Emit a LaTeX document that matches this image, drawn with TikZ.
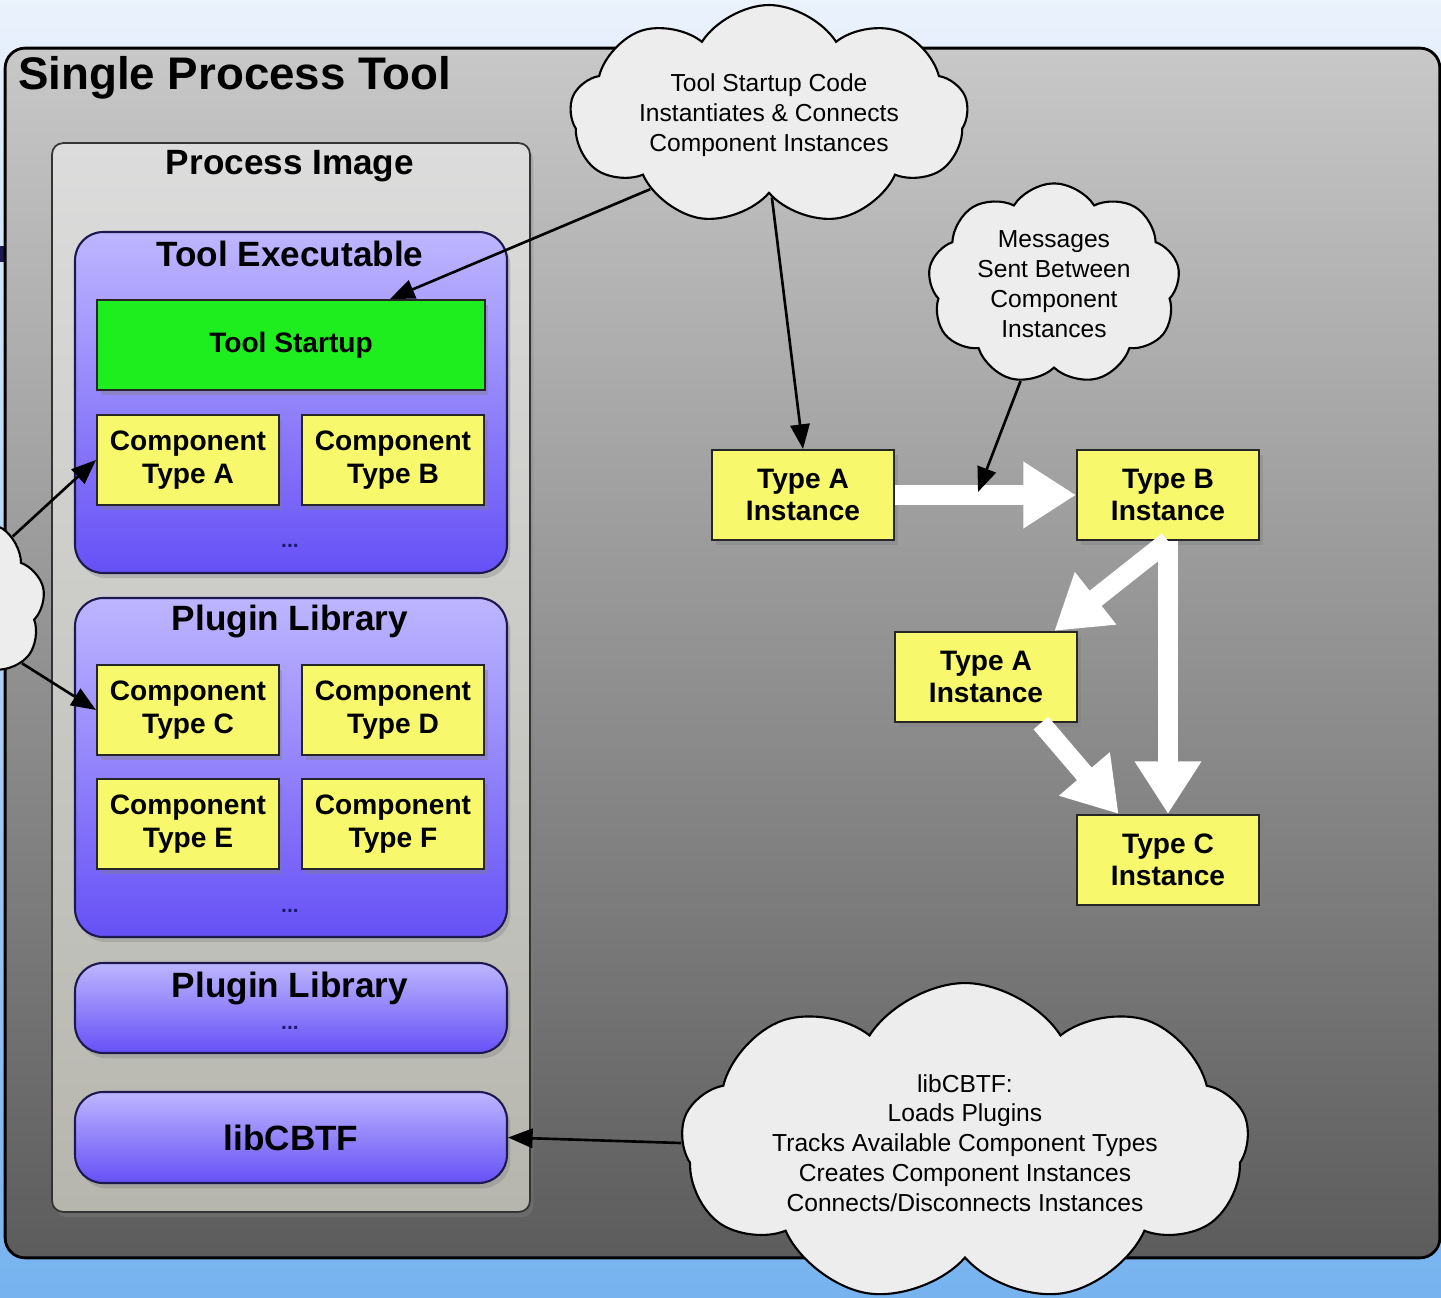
\documentclass[tikz,border=0pt]{standalone}
\usepackage{fontspec}
\setmainfont{Liberation Sans}
\usetikzlibrary{shapes.symbols,arrows.meta,shadows}

\definecolor{skytop}{HTML}{EAF2FC}
\definecolor{skybot}{HTML}{76B3EF}
\definecolor{paneltop}{HTML}{C8C8C8}
\definecolor{panelbot}{HTML}{5C5C5C}
\definecolor{imagetop}{HTML}{DCDCDC}
\definecolor{imagebot}{HTML}{B6B6AE}
\definecolor{libtop}{HTML}{BEB6FF}
\definecolor{libbot}{HTML}{6650F6}
\definecolor{compyellow}{HTML}{F8F86C}
\definecolor{startgreen}{HTML}{1EEE1E}
\definecolor{cloudgray}{HTML}{EDEDED}
\definecolor{dotblue}{HTML}{1A1A70}
\definecolor{edgenavy}{HTML}{1E1850}

\tikzset{
  panel/.style={draw=black, line width=1.6pt, rounded corners=0.4cm,
    top color=paneltop, bottom color=panelbot},
  imagebox/.style={draw=black!80, line width=1pt, rounded corners=0.22cm,
    top color=imagetop, bottom color=imagebot,
    drop shadow={shadow xshift=2pt,shadow yshift=-3pt,opacity=0.35}},
  libbox/.style={draw=edgenavy, line width=1.2pt, rounded corners=0.56cm,
    top color=libtop, bottom color=libbot, minimum width=8.64cm,
    drop shadow={shadow xshift=2pt,shadow yshift=-3pt,opacity=0.35}},
  compbox/.style={draw=black!85, line width=1.2pt, fill=compyellow,
    minimum width=3.64cm, minimum height=1.8cm, align=center,
    font=\fontsize{16}{18.5}\selectfont\bfseries,
    drop shadow={shadow xshift=2pt,shadow yshift=-3pt,opacity=0.4}},
  boxtitle/.style={font=\fontsize{20}{23}\selectfont\bfseries},
  dots/.style={text=dotblue, font=\fontsize{12}{14}\selectfont\bfseries},
  thought/.style={cloud, cloud puffs=9, cloud puff arc=115, cloud ignores aspect,
    draw=black, line width=1.2pt, fill=cloudgray, align=center,
    font=\fontsize{14}{17}\selectfont},
  thin arrow/.style={draw=black, line width=1.5pt,
    -{Triangle[length=14pt,width=11pt]}},
  fat arrow/.style={draw=white, line width=11pt,
    -{Triangle[length=30pt,width=36pt]}}
}

\begin{document}
\begin{tikzpicture}[x=0.02cm,y=-0.02cm]
  \useasboundingbox (0,0) rectangle (1441,1298);
  \clip (0,0) rectangle (1441,1298);
  \shade[top color=skytop, bottom color=skybot] (0,0) rectangle (1441,1298);
  \fill[edgenavy] (0,246) rectangle (5,262);

  % outer frame and process image
  \node[panel, minimum width=28.7cm, minimum height=24.2cm] (tool) at (722.5,653) {};
  \node[anchor=west, font=\fontsize{26}{30}\selectfont\bfseries] (tooltitle) at (12,78) {Single Process Tool};
  \node[imagebox, minimum width=9.56cm, minimum height=21.38cm] (image) at (291,677.5) {};
  \node[boxtitle] (imagetitle) at (290,166) {Process Image};

  % libraries
  \node[libbox, minimum height=6.82cm] (exe) at (291,402.5) {};
  \node[boxtitle] (exetitle) at (290,254) {Tool Executable};
  \node[libbox, minimum height=6.78cm] (plugin) at (291,767.5) {};
  \node[boxtitle] (plugintitle) at (290,621) {Plugin Library};
  \node[libbox, minimum height=1.8cm] (plugintwo) at (291,1008) {};
  \node[boxtitle] (plugintwotitle) at (290,988) {Plugin Library};
  \node[libbox, minimum height=1.82cm, boxtitle] (libcbtf) at (291,1137.5) {libCBTF};

  \node[compbox, fill=startgreen, minimum width=7.76cm] (startup) at (291,345) {Tool Startup};
  \node[compbox] (compa) at (188,460) {Component\\Type A};
  \node[compbox] (compb) at (393,460) {Component\\Type B};
  \node[compbox] (compc) at (188,710) {Component\\Type C};
  \node[compbox] (compd) at (393,710) {Component\\Type D};
  \node[compbox] (compe) at (188,824) {Component\\Type E};
  \node[compbox] (compf) at (393,824) {Component\\Type F};
  \node[dots] (exedots) at (290,546) {...};
  \node[dots] (plugindots) at (290,911) {...};
  \node[dots] (plugintwodots) at (290,1028) {...};

  % instances
  \node[compbox] (insta) at (803,495) {Type A\\Instance};
  \node[compbox] (instb) at (1168,495) {Type B\\Instance};
  \node[compbox] (instaa) at (986,677) {Type A\\Instance};
  \node[compbox] (instc) at (1168,860) {Type C\\Instance};

  \draw[fat arrow] (insta.east) -- (instb.west);
  \draw[fat arrow] (instb.south) -- (instaa.34);
  \draw[fat arrow] (instb.south) -- (instc.north);
  \draw[fat arrow] (instaa.320) -- (instc.137);
  \coordinate (msgtip) at (978,492);

  % clouds
  \node[thought, minimum width=7.96cm, minimum height=4.4cm] (startcloud) at (769,115)
    {Tool Startup Code\\Instantiates \& Connects\\Component Instances};
  \node[thought, minimum width=5.04cm, minimum height=3.84cm] (msgcloud) at (1054,284)
    {Messages\\Sent Between\\Component\\Instances};
  \node[thought, minimum width=11cm, minimum height=6.4cm] (cbtfcloud) at (965,1143)
    {libCBTF:\\Loads Plugins\\Tracks Available Component Types\\Creates Component Instances\\Connects/Disconnects Instances};
  \node[thought, minimum width=4.8cm, minimum height=4cm] (leftcloud) at (-75,605) {};

  \draw[thin arrow] (startcloud.212) -- (startup.north east -| 390,0);
  \draw[thin arrow] (startcloud.272) -- (insta.north);
  \draw[thin arrow] (msgcloud.251) -- (msgtip);
  \draw[thin arrow] (cbtfcloud.180) -- (libcbtf.east);
  \draw[thin arrow] (leftcloud.38) -- (compa.west);
  \draw[thin arrow] (leftcloud.329) -- (compc.west);
\end{tikzpicture}
\end{document}
